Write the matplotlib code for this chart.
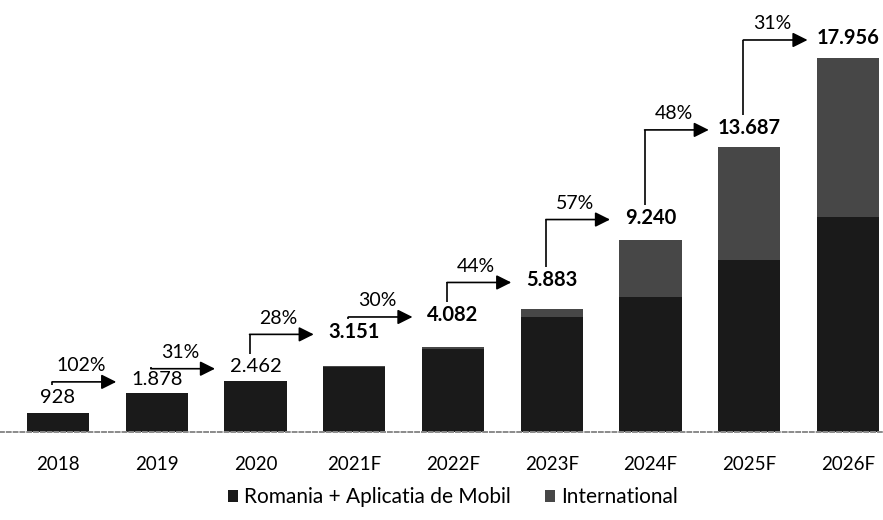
"""Stacked bar chart: revenue by segment 2018-2026F with year-over-year growth arrows."""

import matplotlib

matplotlib.use("Agg")
import matplotlib.pyplot as plt
from matplotlib.patches import Patch
import numpy as np

# --- data --------------------------------------------------------------------
years = ["2018", "2019", "2020", "2021F", "2022F", "2023F", "2024F", "2025F", "2026F"]
totals = [928, 1878, 2462, 3151, 4082, 5883, 9240, 13687, 17956]
romania = [928, 1878, 2462, 3130, 3990, 5500, 6480, 8260, 10320]
growth = ["102%", "31%", "28%", "30%", "44%", "57%", "48%", "31%"]
series_names = ["Romania + Aplicatia de Mobil", "International"]

# --- layout / style -----------------------------------------------------------
label_pad_px = [15, 13, 14, 34, 32, 29, 22, 19, 20]  # value label centre above bar top
first_bold = 3
color_ro = "#1a1a1a"
color_int = "#474747"
font = ["Lato", "DejaVu Sans"]

plt.rcParams["font.family"] = font

W, H, DPI = 883, 520, 100
fig = plt.figure(figsize=(W / DPI, H / DPI), dpi=DPI)
ax_bottom = (H - 432) / H
ax = fig.add_axes([0.0, ax_bottom, 1.0, 1.0 - ax_bottom])

x = np.arange(len(years), dtype=float)
totals_arr = np.asarray(totals, dtype=float)
ro_arr = np.asarray(romania, dtype=float)
int_arr = totals_arr - ro_arr

ymax = 20740
ax.set_ylim(0, ymax)
ax.set_xlim(-0.587, 8.354)
upp = ymax / 432.0  # data units per pixel

ax.bar(x, ro_arr, width=0.63, color=color_ro, zorder=2)
ax.bar(x, int_arr, bottom=ro_arr, width=0.63, color=color_int, zorder=2)

# value labels
label_y = totals_arr + np.asarray(label_pad_px) * upp
for i, (xi, yi, val) in enumerate(zip(x, label_y, totals)):
    txt = f"{val:,}".replace(",", ".")
    ax.text(xi, yi, txt, ha="center", va="center", fontsize=14.5,
            fontweight="bold" if i >= first_bold else "normal", color="black", zorder=4)

# growth arrows: up from label i, then right towards label i+1
for i, pct in enumerate(growth):
    x0 = x[i] - 0.06
    x1 = x[i + 1] - 0.41
    y_start = label_y[i] + 13 * upp
    y_arrow = label_y[i + 1] - 2 * upp
    ax.plot([x0, x0], [y_start, y_arrow], color="black", lw=1.2, zorder=3,
            solid_capstyle="butt")
    ax.annotate("", xy=(x1, y_arrow), xytext=(x0, y_arrow),
                arrowprops=dict(arrowstyle="-|>,head_length=0.9,head_width=0.45",
                                color="black", lw=1.2, shrinkA=0, shrinkB=0),
                zorder=3)
    ax.text((x0 + x1) / 2 - 0.03, y_arrow + 16 * upp, pct, ha="center", va="center",
            fontsize=14, color="black")

ax.set_xticks(x)
ax.set_xticklabels(years, fontsize=13.5)
ax.tick_params(axis="x", length=0, pad=17)
ax.set_yticks([])
for side in ["top", "right", "left"]:
    ax.spines[side].set_visible(False)
ax.spines["bottom"].set_color("#8a8a8a")
ax.spines["bottom"].set_linestyle((0, (2, 1.5)))
ax.spines["bottom"].set_linewidth(1.4)

handles = [Patch(facecolor=color_ro, label=series_names[0]),
           Patch(facecolor=color_int, label=series_names[1])]
fig.legend(handles=handles, loc="center", bbox_to_anchor=(453 / W, 1 - 497 / H), ncol=2,
           frameon=False, fontsize=15, handlelength=0.5, handleheight=0.5,
           handletextpad=0.3, columnspacing=1.6)

fig.savefig("out.png", dpi=DPI)
